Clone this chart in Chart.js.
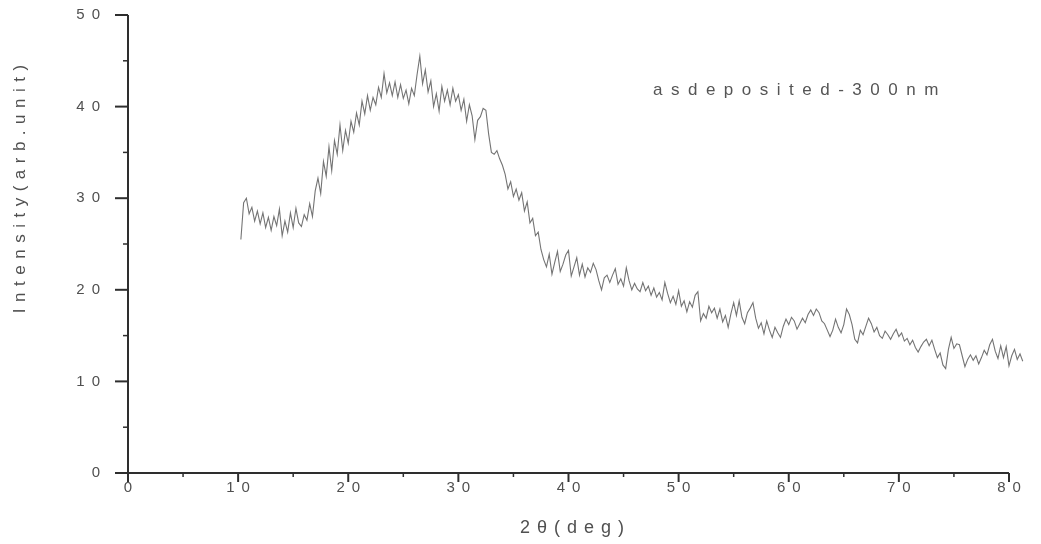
<!DOCTYPE html>
<html><head><meta charset="utf-8">
<script src="https://cdn.jsdelivr.net/npm/chart.js@4/dist/chart.umd.min.js"></script>
<style>html,body{margin:0;padding:0;background:#fff;}#wrap{width:1041px;height:544px;}</style>
</head><body><div id="wrap"><canvas id="c" width="1041" height="544"></canvas></div>
<script>
// 2θ sampling grid (degrees)
const THETA_START = 10.25;
const THETA_STEP = 0.25;
// Intensity (arb. unit), one value per grid step
const intensity = [
  25.5, 29.5, 30.0, 28.3,
  29.0, 27.5, 28.6, 27.2,
  28.4, 26.8, 27.9, 26.5,
  28.0, 27.0, 28.8, 25.9,
  27.5, 26.3, 28.4, 26.8,
  28.9, 27.3, 26.9, 28.2,
  27.6, 29.4, 28.0, 30.8,
  32.2, 30.5, 34.0, 32.4,
  35.6, 33.0, 36.3, 34.8,
  38.0, 35.2, 37.4, 36.0,
  38.4, 37.2, 39.3, 38.0,
  40.6, 39.2, 41.2, 39.6,
  41.0, 40.2, 42.1, 41.0,
  43.6, 41.5, 42.6, 41.2,
  42.7, 41.0, 42.4, 40.9,
  41.8, 40.3, 42.0, 41.2,
  43.5, 45.5, 42.5, 44.0,
  41.6, 42.8, 40.0, 41.4,
  39.5, 42.2, 40.6, 41.8,
  40.2, 42.0, 40.6, 41.3,
  39.6, 40.8, 38.4, 40.2,
  39.0, 36.4, 38.5, 38.9,
  39.8, 39.6, 37.0, 35.0,
  34.8, 35.2, 34.3, 33.6,
  32.6, 31.0, 31.8, 30.2,
  31.0, 29.8, 30.6, 28.6,
  29.6, 27.3, 27.8, 25.9,
  26.3, 24.4, 23.3, 22.5,
  23.9, 21.7, 23.0, 24.2,
  22.0, 22.8, 23.8, 24.3,
  21.5, 22.5, 23.5, 21.6,
  22.8, 21.4, 22.4, 21.9,
  22.9, 22.2, 21.0, 20.0,
  21.3, 21.6, 20.8, 21.6,
  22.3, 20.6, 21.2, 20.4,
  22.4, 21.0, 20.0, 20.7,
  20.1, 19.8, 20.8, 19.9,
  20.4, 19.4, 20.2, 19.2,
  19.7, 18.9, 20.8, 19.6,
  18.6, 19.3, 18.4, 19.9,
  18.2, 18.8, 17.6, 18.7,
  18.1, 19.4, 19.8, 16.6,
  17.4, 16.9, 18.2, 17.5,
  18.0, 16.9, 17.9, 16.5,
  17.2, 15.9, 17.4, 18.6,
  17.2, 18.8, 17.0, 16.3,
  17.5, 18.0, 18.6, 16.9,
  15.8, 16.4, 15.2, 16.6,
  15.6, 14.8, 15.9, 15.3,
  14.8, 16.0, 16.8, 16.2,
  17.0, 16.6, 15.7, 16.3,
  16.9, 16.4, 17.3, 17.8,
  17.2, 17.9, 17.5, 16.6,
  16.3, 15.6, 14.9, 15.6,
  16.8, 15.9, 15.3, 16.2,
  17.9, 17.3, 16.2, 14.6,
  14.2, 15.6, 15.1, 16.0,
  16.9, 16.3, 15.4, 15.9,
  15.0, 14.7, 15.5, 15.1,
  14.6, 15.2, 15.7, 14.9,
  15.3, 14.4, 14.7, 14.0,
  14.5, 13.7, 13.2, 13.8,
  14.3, 14.6, 13.9, 14.5,
  13.5, 12.6, 13.1, 11.8,
  11.4, 13.5, 14.8, 13.6,
  14.1, 14.0, 12.8, 11.6,
  12.4, 12.9, 12.3, 12.8,
  11.9, 12.6, 13.4, 12.9,
  14.0, 14.6, 13.3, 12.5,
  13.9, 12.6, 13.8, 11.7,
  12.8, 13.5, 12.4, 13.0,
  12.2
];
const xTickValues = [0, 10, 20, 30, 40, 50, 60, 70, 80];
const xMinorValues = [5, 15, 25, 35, 45, 55, 65, 75];
const yTickValues = [0, 10, 20, 30, 40, 50];
const yMinorValues = [5, 15, 25, 35, 45];
const X_AXIS_END = 80;      // drawn axis end
const X_SCALE_MAX = 81.3;   // scale extent (data runs slightly past the drawn axis)
const seriesLabel = 'asdeposited-300nm';
const xTitle = '2θ(deg)';
const yTitle = 'Intensity(arb.unit)';

const points = intensity.map((v, i) => ({ x: THETA_START + i * THETA_STEP, y: v }));

const FONT = '"Liberation Sans", Arial, sans-serif';
function drawSpaced(ctx, text, x, y, spacing, align) {
  const chars = Array.from(text);
  const widths = chars.map(ch => ctx.measureText(ch).width);
  const total = widths.reduce((a, b) => a + b, 0) + spacing * (chars.length - 1);
  let start = x;
  if (align === 'center') start = x - total / 2;
  else if (align === 'right') start = x - total;
  const prevAlign = ctx.textAlign;
  ctx.textAlign = 'left';
  chars.forEach((ch, i) => { ctx.fillText(ch, start, y); start += widths[i] + spacing; });
  ctx.textAlign = prevAlign;
}

const decor = {
  id: 'decor',
  afterDraw(chart) {
    const ctx = chart.ctx;
    const xs = chart.scales.x, ys = chart.scales.y;
    const area = chart.chartArea;
    const x0 = xs.getPixelForValue(0), xEnd = xs.getPixelForValue(X_AXIS_END);
    const y0 = ys.getPixelForValue(0), yTop = ys.getPixelForValue(50);
    ctx.save();
    ctx.strokeStyle = '#2e2e2e';
    // axis lines
    ctx.lineWidth = 2;
    ctx.beginPath(); ctx.moveTo(x0, yTop); ctx.lineTo(x0, y0 + 1); ctx.stroke();
    ctx.beginPath(); ctx.moveTo(x0 - 1, y0); ctx.lineTo(xEnd, y0); ctx.stroke();
    // y ticks
    yTickValues.forEach(v => {
      const p = ys.getPixelForValue(v);
      ctx.lineWidth = 2;
      ctx.beginPath(); ctx.moveTo(x0 - 13, p); ctx.lineTo(x0, p); ctx.stroke();
    });
    yMinorValues.forEach(v => {
      const p = ys.getPixelForValue(v);
      ctx.lineWidth = 1.5;
      ctx.beginPath(); ctx.moveTo(x0 - 5, p); ctx.lineTo(x0, p); ctx.stroke();
    });
    // x ticks
    xTickValues.forEach(v => {
      const p = xs.getPixelForValue(v);
      ctx.lineWidth = 2;
      ctx.beginPath(); ctx.moveTo(p, y0); ctx.lineTo(p, y0 + 9); ctx.stroke();
    });
    xMinorValues.forEach(v => {
      const p = xs.getPixelForValue(v);
      ctx.lineWidth = 1.5;
      ctx.beginPath(); ctx.moveTo(p, y0); ctx.lineTo(p, y0 + 4); ctx.stroke();
    });
    // tick labels
    ctx.fillStyle = '#505050';
    ctx.font = '15px ' + FONT;
    ctx.textBaseline = 'middle';
    yTickValues.forEach(v => {
      drawSpaced(ctx, String(v), x0 - 28, ys.getPixelForValue(v), 7, 'right');
    });
    xTickValues.forEach(v => {
      drawSpaced(ctx, String(v), xs.getPixelForValue(v), y0 + 15, 7, 'center');
    });
    // axis titles
    ctx.textBaseline = 'alphabetic';
    ctx.font = '18px ' + FONT;
    drawSpaced(ctx, xTitle, 572, 533, 7, 'center');
    ctx.save();
    ctx.translate(25, 189);
    ctx.rotate(-Math.PI / 2);
    ctx.font = '17px ' + FONT;
    drawSpaced(ctx, yTitle, 0, 0, 6.5, 'center');
    ctx.restore();
    // series label
    ctx.font = '17px ' + FONT;
    ctx.fillStyle = '#555';
    drawSpaced(ctx, seriesLabel, 653, 95, 8.5, 'left');
    ctx.restore();
  }
};

new Chart(document.getElementById('c'), {
  type: 'line',
  data: {
    datasets: [{
      label: seriesLabel,
      data: points,
      borderColor: '#747474',
      borderWidth: 1.1,
      pointRadius: 0,
      tension: 0,
      fill: false,
      clip: false
    }]
  },
  options: {
    responsive: false,
    animation: false,
    devicePixelRatio: 1,
    layout: { autoPadding: false, padding: { left: 128, top: 15, right: 17.7, bottom: 71 } },
    plugins: { legend: { display: false }, tooltip: { enabled: false } },
    scales: {
      x: {
        type: 'linear', min: 0, max: X_SCALE_MAX,
        ticks: { display: false },
        grid: { display: false },
        border: { display: false },
        afterFit(s) { s.height = 0; }
      },
      y: {
        type: 'linear', min: 0, max: 50,
        ticks: { display: false },
        grid: { display: false },
        border: { display: false },
        afterFit(s) { s.width = 0; }
      }
    }
  },
  plugins: [decor]
});
</script>
</body></html>
